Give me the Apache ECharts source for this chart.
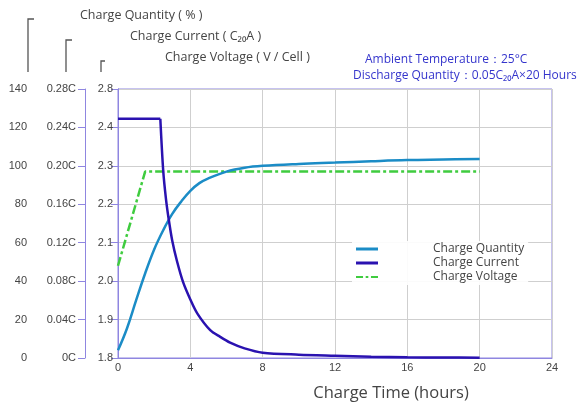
<!DOCTYPE html>
<html>
<head>
<meta charset="utf-8">
<script src="https://cdn.jsdelivr.net/npm/echarts@6/dist/echarts.min.js"></script>
<style>html,body{margin:0;padding:0;background:#fff;}#c{width:580px;height:402px;}</style>
</head>
<body>
<div id="c"></div>
<script>
// ---- data ----
var seriesNames = ['Charge Quantity', 'Charge Current', 'Charge Voltage'];
var xTicks = [0, 4, 8, 12, 16, 20, 24];
var quantityData = [[0,4],[0.5,15.5],[1,30],[1.5,44],[2,56.5],[2.5,66.5],[3,75],[3.5,81.5],[4,87],[4.5,91],[5,93.5],[6,97],[7,99],[8,100],[10,101],[12,101.7],[14,102.4],[16,103],[18,103.3],[20,103.6]];
var currentFlat = [[0,0.249],[2.34,0.249]];
var currentDecay = [[2.34,0.249],[2.5,0.195],[2.65,0.166],[2.8,0.145],[3.0,0.122],[3.26,0.101],[3.6,0.079],[4.0,0.061],[4.4,0.046],[5.1,0.029],[5.65,0.022],[6.2,0.016],[7,0.0100],[8,0.0055],[10,0.0035],[12,0.0024],[14,0.0014],[16,0.0008],[18,0.0005],[20,0.0003]];
var voltageData = [[0,2.04],[1.5,2.285],[20,2.285]];
var quantityTicks = {min:0, max:140, interval:20};
var currentTicks = {min:0, max:0.28, interval:0.04};
var voltageTicks = {min:1.8, max:2.5, interval:0.1, topLabel:'2.8'};

var lav = '#8f86e0';
var grey = '#cfcfcf';
var txt = '#444';
var cQ = '#1b8cc6', cC = '#2a12b0', cV = '#3fcc3f';
var tickFont = 'Liberation Sans, Arial, sans-serif';
var textFont = 'Open Sans, Noto Sans, sans-serif';

var chart = echarts.init(document.getElementById('c'), null, {renderer:'canvas'});
chart.setOption({
  animation: false,
  backgroundColor: '#fff',
  grid: {left: 118, right: 28, top: 89, bottom: 44, show: true, borderColor: lav, borderWidth: 1,
    containLabel: false, outerBoundsMode: 'none'},
  legend: {
    orient: 'vertical', left: 352, top: 241,
    itemWidth: 22, itemHeight: 3, itemGap: 0,
    backgroundColor: 'rgba(255,255,255,0.9)', padding: [1, 4, 1, 4],
    textStyle: {fontSize: 12, color: txt, fontFamily: textFont, padding: [0, 0, 0, 50], lineHeight: 14},
    data: [
      {name: seriesNames[0], icon: 'rect', itemStyle: {color: cQ}},
      {name: seriesNames[1], icon: 'rect', itemStyle: {color: cC}},
      {name: seriesNames[2], icon: 'path://M0,0h8v2h-8z M11,0h3v2h-3z M17,0h8v2h-8z', itemStyle: {color: cV}}
    ]
  },
  xAxis: {
    type: 'value', min: xTicks[0], max: xTicks[xTicks.length-1], interval: 4,
    name: 'Charge Time (hours)', nameLocation: 'middle', nameGap: 27,
    nameTextStyle: {fontSize: 16.5, color: txt, fontFamily: textFont, padding: [0,0,0,112]},
    axisLine: {show: true, lineStyle: {color: lav}},
    axisTick: {show: false},
    axisLabel: {fontSize: 11, color: txt, fontFamily: tickFont, margin: 4},
    splitLine: {show: true, lineStyle: {color: grey}}
  },
  yAxis: [
    {
      type: 'value', min: quantityTicks.min, max: quantityTicks.max, interval: quantityTicks.interval,
      position: 'left', offset: 79,
      axisLine: {show: true, lineStyle: {color: lav}},
      axisTick: {show: true, length: 7, lineStyle: {color: lav}},
      axisLabel: {fontSize: 11, color: txt, fontFamily: tickFont, margin: 12},
      splitLine: {show: true, lineStyle: {color: grey}}
    },
    {
      type: 'value', min: currentTicks.min, max: currentTicks.max, interval: currentTicks.interval,
      position: 'left', offset: 33,
      axisLine: {show: true, lineStyle: {color: lav}},
      axisTick: {show: true, length: 7, lineStyle: {color: lav}},
      axisLabel: {fontSize: 11, color: txt, fontFamily: tickFont, margin: 9,
        formatter: function (v) { return v === 0 ? '0C' : v.toFixed(2) + 'C'; }},
      splitLine: {show: false}
    },
    {
      type: 'value', min: voltageTicks.min, max: voltageTicks.max, interval: voltageTicks.interval,
      position: 'left', offset: 0,
      axisLine: {show: true, lineStyle: {color: lav}},
      axisTick: {show: true, length: 4, lineStyle: {color: lav}},
      axisLabel: {fontSize: 11, color: txt, fontFamily: tickFont, margin: 5,
        formatter: function (v) { return v > voltageTicks.max - 0.05 ? voltageTicks.topLabel : v.toFixed(1); }},
      splitLine: {show: false}
    }
  ],
  series: [
    {name: seriesNames[0], type: 'line', yAxisIndex: 0, data: quantityData, smooth: 0.4,
      showSymbol: false, lineStyle: {color: cQ, width: 2.5}, itemStyle: {color: cQ}, z: 3},
    {name: seriesNames[1], type: 'line', yAxisIndex: 1, data: currentFlat,
      showSymbol: false, lineStyle: {color: cC, width: 2.5}, itemStyle: {color: cC}, z: 4},
    {name: seriesNames[1], type: 'line', yAxisIndex: 1, data: currentDecay, smooth: 0.3,
      showSymbol: false, lineStyle: {color: cC, width: 2.5}, itemStyle: {color: cC}, z: 4},
    {name: seriesNames[2], type: 'line', yAxisIndex: 2, data: voltageData,
      showSymbol: false, lineStyle: {color: cV, width: 2.5, type: [9, 3, 3, 3]}, itemStyle: {color: cV}, z: 2}
  ],
  graphic: [
    {type: 'polyline', shape: {points: [[34,19],[28,19],[28,72]]}, style: {stroke: '#555', lineWidth: 1.3, fill: null}},
    {type: 'polyline', shape: {points: [[72,40],[66,40],[66,72]]}, style: {stroke: '#555', lineWidth: 1.3, fill: null}},
    {type: 'polyline', shape: {points: [[105,61],[101,61],[101,72]]}, style: {stroke: '#555', lineWidth: 1.3, fill: null}},
    {type: 'text', left: 80, top: 9, style: {text: 'Charge Quantity ( % )', fontSize: 12.5, fill: txt, fontFamily: textFont}},
    {type: 'text', left: 130, top: 30, style: {text: 'Charge Current ( C₂₀A )', fontSize: 12.5, fill: txt, fontFamily: textFont}},
    {type: 'text', left: 165, top: 51, style: {text: 'Charge Voltage ( V / Cell )', fontSize: 12.5, fill: txt, fontFamily: textFont}},
    {type: 'text', left: 365, top: 54, style: {text: 'Ambient Temperature：25°C', fontSize: 12, fill: '#3535cc', fontFamily: textFont}},
    {type: 'text', left: 353, top: 70, style: {text: 'Discharge Quantity：0.05C₂₀A×20 Hours', fontSize: 12, fill: '#3535cc', fontFamily: textFont}}
  ]
});
</script>
</body>
</html>
